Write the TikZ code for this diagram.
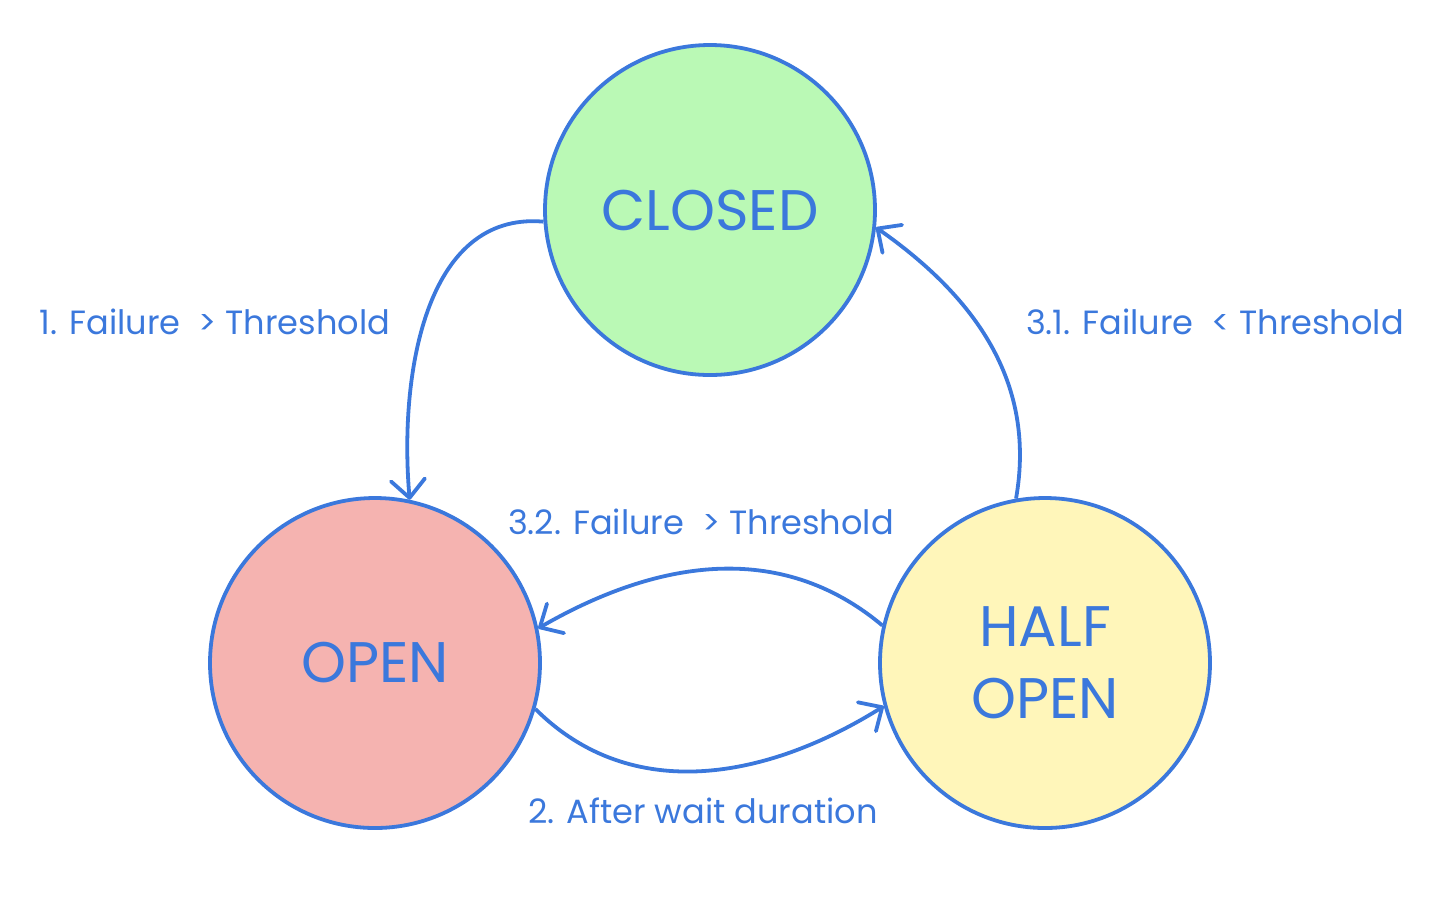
\documentclass[tikz,border=0pt]{standalone}
\usepackage{fontspec}
\setmainfont{Poppins}
\usetikzlibrary{arrows.meta}
\definecolor{lineblue}{HTML}{3B78DC}
\definecolor{greenfill}{HTML}{BAF9B5}
\definecolor{redfill}{HTML}{F5B3B0}
\definecolor{yellowfill}{HTML}{FFF6BA}
\begin{document}
\begin{tikzpicture}[x=0.5pt,y=-0.5pt,
  state/.style={circle,draw=lineblue,line width=1.9pt,minimum size=165pt,inner sep=0pt,
    text=lineblue,font=\fontsize{28.6}{32}\selectfont,align=center},
  lbl/.style={text=lineblue,font=\fontsize{16.8}{20}\selectfont,inner sep=0pt},
  conn/.style={draw=lineblue,line width=1.9pt,-{Straight Barb[length=9pt,width=17pt,line cap=round,line join=round]}}
]
\useasboundingbox (0,0) rectangle (1452,902);
\node[state,fill=greenfill] (closed) at (710,210) {CLOSED};
\node[state,fill=redfill] (open) at (375,663) {OPEN};
\node[state,fill=yellowfill] (half) at (1045,663) {HALF\\[4pt]OPEN};

\draw[conn] (closed.184) to[out=175,in=95] (open.78);
\draw[conn] (half.100) to[out=80,in=-35] (closed.354);
\draw[conn] (half.167) to[out=140,in=30] (open.12);
\draw[conn] (open.344) to[out=-45,in=-148] (half.195);

\node[lbl] (l1) at (215,322) {1. Failure\ \ > Threshold};
\node[lbl] (l31) at (1215,322) {3.1. Failure\ \ < Threshold};
\node[lbl] (l32) at (701,522) {3.2. Failure\ \ > Threshold};
\node[lbl] (l2) at (703,811) {2. After wait duration};
\end{tikzpicture}
\end{document}
